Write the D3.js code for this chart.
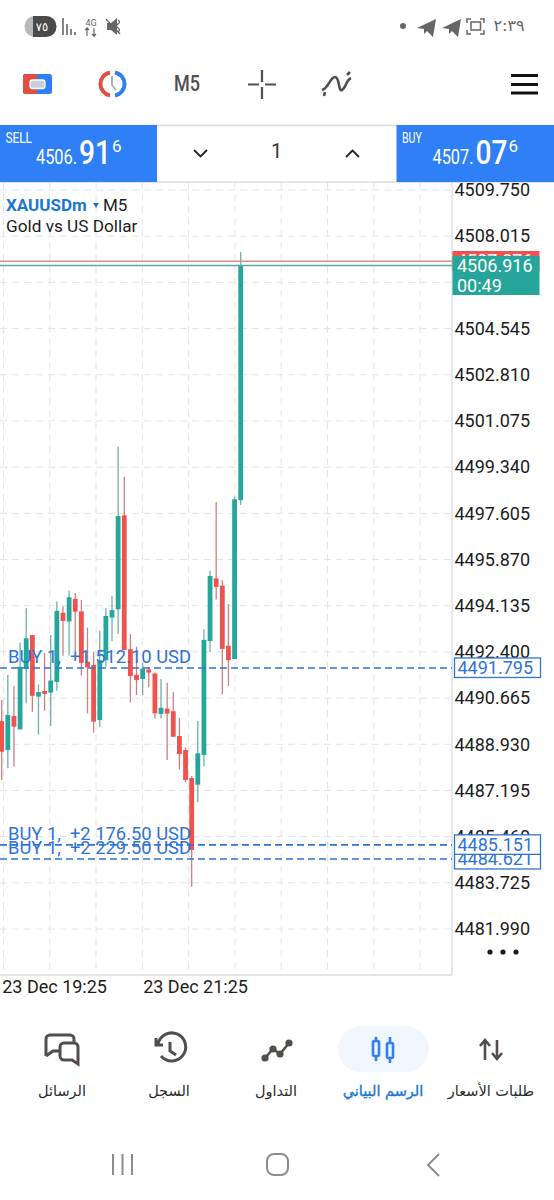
<!DOCTYPE html>
<html>
<head>
<meta charset="utf-8">
<script src="https://cdn.jsdelivr.net/npm/d3@7"></script>
<style>
  body { margin: 0; background: #fff; }
  svg { display: block; }
  text { font-family: Roboto, sans-serif; }
  .ar { font-family: "DejaVu Sans", sans-serif; }
</style>
</head>
<body>
<div id="chart"></div>
<script>
// candles (prices)
var opens = [4489.80,4488.71,4489.99,4489.49,4491.78,4493.03,4490.72,4490.93,4490.87,4491.27,
  4493.87,4493.54,4494.39,4493.92,4492.03,4491.91,4489.84,4492.09,4493.69,4494.00,
  4497.53,4492.50,4491.54,4491.38,4491.74,4491.59,4490.07,4490.27,4490.17,4489.24,
  4488.71,4487.66,4487.41,4488.53,4492.81,4495.16,4494.89,4492.63,4492.13,4498.10];
var highs = [4490.59,4491.53,4491.12,4492.75,4494.04,4493.03,4491.18,4492.35,4493.03,4494.29,
  4494.10,4494.70,4494.60,4494.35,4493.31,4492.41,4493.20,4494.04,4494.50,4500.11,
  4498.98,4493.07,4492.60,4491.99,4491.84,4491.62,4491.38,4491.24,4490.88,4489.93,
  4488.81,4487.74,4489.80,4493.25,4495.45,4498.03,4495.10,4494.20,4498.23,4507.42];
var lows = [4487.59,4488.03,4488.09,4489.49,4490.47,4490.15,4489.30,4490.19,4489.62,4490.94,
  4492.25,4492.25,4492.41,4491.51,4490.09,4489.37,4489.59,4491.84,4492.81,4493.07,
  4492.47,4490.50,4490.78,4490.78,4491.07,4489.90,4489.90,4488.34,4489.21,4487.99,
  4487.50,4483.58,4486.75,4488.09,4492.40,4494.37,4490.81,4491.12,4492.13,4497.92];
var closes = [4488.65,4490.03,4489.59,4491.84,4492.91,4490.75,4490.89,4490.82,4491.32,4493.94,
  4493.56,4494.45,4493.91,4491.99,4491.82,4489.78,4492.09,4493.75,4493.97,4497.50,
  4492.47,4491.49,4491.34,4491.77,4491.62,4490.09,4490.30,4490.08,4489.21,4488.56,
  4487.59,4484.96,4488.59,4492.85,4495.25,4494.84,4492.51,4492.09,4498.13,4506.916];

// 4506.280 has a grid line but its label sits under the price box
var gridPrices = [4509.750,4508.015,4506.280,4504.545,4502.810,4501.075,4499.340,4497.605,
  4495.870,4494.135,4492.400,4490.665,4488.930,4487.195,4485.460,4483.725,4481.990];
var priceTicks = [4509.750,4508.015,4504.545,4502.810,4501.075,4499.340,4497.605,
  4495.870,4494.135,4492.400,4490.665,4488.930,4487.195,4485.460,4483.725,4481.990];
var timeTickIndex = [0, 23];
var timeTickLabels = ["23 Dec 19:25", "23 Dec 21:25"];
var gridSteps = [0,1,2,3,4,5,6,7,8,9];

var bid = 4506.916;
var ask = 4507.076;
var orderPrices = [4491.795, 4485.151, 4484.621];
var orderLabels = ["BUY 1,  +1 512.10 USD", "BUY 1,  +2 176.50 USD", "BUY 1,  +2 229.50 USD"];

var navLabels = ["الرسائل", "السجل", "التداول", "الرسم البياني", "طلبات الأسعار"];

var svgWidth = 554;
var svgHeight = 1200;
var plotRight = 452;
var plotBottom = 975;

var UP = "#26a69a", DOWN = "#ef5350";
var UP_WICK = "#6fb0a8", DOWN_WICK = "#cf7f7c";
var BLUE = "#2f80f6", ORDER = "#2f73d6", LINK = "#1976d2";
var ICON = "#544d4b", GRID = "#e4e4e4";

var svg = d3.select("#chart").append("svg")
  .attr("width", svgWidth)
  .attr("height", svgHeight);

// scales
var x = d3.scaleLinear().domain([0, 39]).range([1.7, 240.7]);
var y = d3.scaleLinear().domain([4481.990, 4509.750]).range([929, 190]);
var gridX = d3.scaleLinear().domain([0, 9]).range([3.5, 420]);

var plot = svg.append("g");

// grid
plot.selectAll(".gh").data(gridPrices).enter().append("line")
  .attr("x1", 0).attr("x2", plotRight)
  .attr("y1", d => y(d)).attr("y2", d => y(d))
  .attr("stroke", GRID).attr("stroke-dasharray", "7,5");

plot.selectAll(".gv").data(gridSteps).enter().append("line")
  .attr("x1", d => gridX(d)).attr("x2", d => gridX(d))
  .attr("y1", 182).attr("y2", plotBottom)
  .attr("stroke", GRID).attr("stroke-dasharray", "7,5");

plot.append("line").attr("x1", plotRight).attr("x2", plotRight).attr("y1", 182).attr("y2", plotBottom)
  .attr("stroke", "#dedede").attr("stroke-width", 1.5);
plot.append("line").attr("x1", 0).attr("x2", plotRight).attr("y1", plotBottom).attr("y2", plotBottom)
  .attr("stroke", "#dedede").attr("stroke-width", 1.5);

// axes
var yAxis = d3.axisRight(y).tickValues(priceTicks).tickSize(0).tickPadding(0)
  .tickFormat(d3.format(".3f"));
var yg = plot.append("g").attr("transform", `translate(454.5,0)`).call(yAxis);
yg.select(".domain").remove();
yg.selectAll("text").style("font-size", "18px").attr("fill", "#1c1c1c").attr("font-family", "Roboto");

var xAxis = d3.axisBottom(x).tickValues(timeTickIndex).tickSize(0).tickPadding(0)
  .tickFormat((d, i) => timeTickLabels[i]);
var xg = plot.append("g").attr("transform", `translate(0,${plotBottom + 5})`).call(xAxis);
xg.select(".domain").remove();
xg.selectAll("text").style("font-size", "18px").attr("fill", "#1c1c1c")
  .attr("text-anchor", "start").attr("font-family", "Roboto");

// candles
var idx = d3.range(opens.length);
plot.selectAll(".wick").data(idx).enter().append("line")
  .attr("x1", d => x(d)).attr("x2", d => x(d))
  .attr("y1", d => y(highs[d])).attr("y2", d => y(lows[d]))
  .attr("stroke", d => closes[d] >= opens[d] ? UP_WICK : DOWN_WICK)
  .attr("stroke-width", 1.3);

plot.selectAll(".body").data(idx).enter().append("rect")
  .attr("x", d => x(d) - 2.4)
  .attr("width", 4.8)
  .attr("y", d => y(Math.max(opens[d], closes[d])))
  .attr("height", d => Math.abs(y(opens[d]) - y(closes[d])))
  .attr("fill", d => closes[d] >= opens[d] ? UP : DOWN);

// bid / ask lines
plot.append("line").attr("x1", 0).attr("x2", plotRight).attr("y1", y(ask)).attr("y2", y(ask))
  .attr("stroke", "#d98d89").attr("stroke-width", 1.5);
plot.append("line").attr("x1", 0).attr("x2", plotRight).attr("y1", y(bid)).attr("y2", y(bid))
  .attr("stroke", "#5fa9a0").attr("stroke-width", 1.5);

// order lines and labels
plot.selectAll(".order").data(orderPrices).enter().append("line")
  .attr("x1", 0).attr("x2", plotRight)
  .attr("y1", d => y(d)).attr("y2", d => y(d))
  .attr("stroke", ORDER).attr("stroke-width", 1.6).attr("stroke-dasharray", "7,4");

plot.selectAll(".orderText").data(orderPrices).enter().append("text")
  .attr("x", 8)
  .attr("y", d => y(d) - 4.5)
  .attr("fill", ORDER).attr("font-size", 17.5)
  .attr("textLength", 183).attr("lengthAdjust", "spacingAndGlyphs")
  .style("white-space", "pre")
  .text((d, i) => orderLabels[i]);

// price boxes on the right, lower one first so the upper sits on it
[2, 0, 1].forEach(function (i) {
  var p = orderPrices[i];
  var cy = y(p);
  var top = i == 2 ? cy - 5 : cy - 10;
  var h = i == 2 ? 15 : 19.5;
  var g = plot.append("g");
  g.append("rect").attr("x", 454.5).attr("y", top).attr("width", 86).attr("height", h)
    .attr("fill", "#fff").attr("stroke", ORDER).attr("stroke-width", 1.3);
  g.append("text").attr("x", 457.5).attr("y", cy + 6.5)
    .attr("fill", ORDER).attr("font-size", 18).text(d3.format(".3f")(p));
});

// ask box is mostly covered by the bid box, only its top edge shows
plot.append("rect").attr("x", 452.5).attr("y", 251).attr("width", 87).attr("height", 20).attr("fill", DOWN);
plot.append("text").attr("x", 457).attr("y", 267).attr("fill", "#fff").attr("font-size", 18).text(d3.format(".3f")(ask));
plot.append("rect").attr("x", 452.5).attr("y", 256).attr("width", 87).attr("height", 39).attr("fill", UP);
plot.append("text").attr("x", 457).attr("y", 271.5).attr("fill", "#fff").attr("font-size", 18).text(d3.format(".3f")(bid));
plot.append("text").attr("x", 457).attr("y", 291.5).attr("fill", "#fff").attr("font-size", 18).text("00:49");

// three dots
[490, 503, 516].forEach(function (cx) {
  plot.append("circle").attr("cx", cx).attr("cy", 952).attr("r", 2.6).attr("fill", "#1c1c1c");
});

// symbol title
plot.append("text").attr("x", 6).attr("y", 211).attr("font-size", 17).attr("fill", LINK).attr("font-weight", 700).text("XAUUSDm");
plot.append("path").attr("d", "M93 203h6l-3 5z").attr("fill", LINK);
plot.append("text").attr("x", 103).attr("y", 211).attr("font-size", 17).attr("fill", "#1c1c1c").text("M5");
plot.append("text").attr("x", 6).attr("y", 232).attr("font-size", 17.2).attr("fill", "#1c1c1c").text("Gold vs US Dollar");

// header with sell / buy, drawn over the chart top
var head = svg.append("g");
head.append("rect").attr("x", 0).attr("y", 0).attr("width", svgWidth).attr("height", 182).attr("fill", "#fff");
head.append("line").attr("x1", 0).attr("x2", svgWidth).attr("y1", 125.5).attr("y2", 125.5).attr("stroke", "#dcdcdc").attr("stroke-width", 1.5);
head.append("line").attr("x1", 0).attr("x2", svgWidth).attr("y1", 182).attr("y2", 182).attr("stroke", "#dcdcdc").attr("stroke-width", 1.5);
head.append("rect").attr("x", 0).attr("y", 125).attr("width", 157).attr("height", 57).attr("fill", BLUE);
head.append("rect").attr("x", 396.5).attr("y", 125).attr("width", 157.5).attr("height", 57).attr("fill", BLUE);

function quote(x0, name, big, small, last) {
  head.append("text").attr("x", x0 + 5.5).attr("y", 143).attr("fill", "#fff").attr("font-size", 15)
    .attr("textLength", name.length * 6.6).attr("lengthAdjust", "spacingAndGlyphs").text(name);
  head.append("text").attr("x", x0 + 36).attr("y", 163.5).attr("fill", "#fff").attr("font-size", 20)
    .attr("textLength", 41).attr("lengthAdjust", "spacingAndGlyphs").text(big);
  head.append("text").attr("x", x0 + 79).attr("y", 163.5).attr("fill", "#fff").attr("font-size", 34)
    .attr("font-weight", 500).attr("textLength", 32).attr("lengthAdjust", "spacingAndGlyphs").text(small);
  head.append("text").attr("x", x0 + 112).attr("y", 152).attr("fill", "#fff").attr("font-size", 17).text(last);
}
quote(0, "SELL", "4506.", "91", "6");
quote(396.5, "BUY", "4507.", "07", "6");

head.append("path").attr("d", "M194 150l6.5 6.5 6.5-6.5").attr("fill", "none").attr("stroke", "#222").attr("stroke-width", 1.8);
head.append("path").attr("d", "M346 157l6.5-6.5 6.5 6.5").attr("fill", "none").attr("stroke", "#222").attr("stroke-width", 1.8);
head.append("text").attr("x", 276.5).attr("y", 158).attr("text-anchor", "middle").attr("font-size", 20).attr("fill", "#333").text("1");

// toolbar icons
var bar = svg.append("g");
bar.append("rect").attr("x", 23).attr("y", 74).attr("width", 29).attr("height", 20).attr("rx", 2.5).attr("fill", BLUE);
bar.append("path").attr("d", "M25.5 74H37V94H25.5a2.5 2.5 0 0 1-2.5-2.5v-15A2.5 2.5 0 0 1 25.5 74z").attr("fill", "#df4f43");
bar.append("rect").attr("x", 30).attr("y", 80).attr("width", 15).attr("height", 8.5).attr("rx", 2.5).attr("fill", "#c9d0dc").attr("stroke", "#fff").attr("stroke-width", 1.3);
bar.append("path").attr("d", "M110 72.5a11.7 11.7 0 0 0 0 23").attr("fill", "none").attr("stroke", "#df4f43").attr("stroke-width", 4);
bar.append("path").attr("d", "M115 72.5a11.7 11.7 0 0 1 0 23").attr("fill", "none").attr("stroke", BLUE).attr("stroke-width", 4);
bar.append("path").attr("d", "M112 76v9l4 5").attr("fill", "none").attr("stroke", "#aab2bd").attr("stroke-width", 2);
bar.append("text").attr("x", 174).attr("y", 91).attr("font-size", 22).attr("font-weight", 500).attr("fill", ICON)
  .attr("textLength", 26).attr("lengthAdjust", "spacingAndGlyphs").text("M5");
bar.append("path").attr("d", "M262 70v12M262 87v12M248 84.5h11M265 84.5h11").attr("stroke", ICON).attr("stroke-width", 2.2);
bar.append("path").attr("d", "M322 90C329 88 330 77 335 77S338 92 342 90 346 80 351 78M325 92l-1 4M347 75l3-3")
  .attr("fill", "none").attr("stroke", ICON).attr("stroke-width", 2.6);
bar.append("path").attr("d", "M511 79.5h27M511 88.5h27M511 97h27").attr("transform", "translate(0,-4)").attr("stroke", "#111").attr("stroke-width", 3);

// status bar
var statusBar = svg.append("g").attr("fill", "#666");
statusBar.append("rect").attr("x", 24.5).attr("y", 16).attr("width", 32).attr("height", 21).attr("rx", 10.5).attr("fill", "#b8b8b8");
statusBar.append("path").attr("d", "M33 16h13a10.5 10.5 0 0 1 0 21H33z").attr("fill", "#4a4a4a");
statusBar.append("text").attr("class", "ar").attr("x", 42).attr("y", 31).attr("text-anchor", "middle").attr("font-size", 11.5).attr("fill", "#fff").text("٧٥");
statusBar.append("path").attr("d", "M63 18v17M67 24v11M71 29v6M75 32v3").attr("stroke", "#666").attr("stroke-width", 1.6);
statusBar.append("text").attr("x", 91).attr("y", 26).attr("text-anchor", "middle").attr("font-size", 9).text("4G");
statusBar.append("path").attr("d", "M87 36v-8l-2 2M87 28l2 2M94 28v8l-2-2M94 36l2-2").attr("stroke", "#666").attr("fill", "none").attr("stroke-width", 1.2);
statusBar.append("path").attr("d", "M107 23h4l6-5v17l-6-5h-4z");
statusBar.append("path").attr("d", "M106 19l14 15M118 20q3 2 0 4t0 4 0 4").attr("stroke", "#666").attr("fill", "none").attr("stroke-width", 1.3);
statusBar.append("circle").attr("cx", 403).attr("cy", 26).attr("r", 3);
statusBar.append("path").attr("d", "M417 28l19-9-3 18-6-6-3 3v-5z");
statusBar.append("path").attr("d", "M442 28l19-9-3 18-6-6-3 3v-5z");
statusBar.append("path").attr("d", "M467 23v-4h4M484 23v-4h-4M467 30v4h4M484 30v4h-4").attr("stroke", "#666").attr("fill", "none").attr("stroke-width", 1.5);
statusBar.append("rect").attr("x", 471).attr("y", 22).attr("width", 9.5).attr("height", 8).attr("fill", "none").attr("stroke", "#666").attr("stroke-width", 1.5);
statusBar.append("text").attr("class", "ar").attr("x", 509).attr("y", 31).attr("text-anchor", "middle").attr("font-size", 16).text("٢:٣٩");

// bottom nav
var nav = svg.append("g");
nav.append("rect").attr("x", 338).attr("y", 1026).attr("width", 91).attr("height", 46).attr("rx", 23).attr("fill", "#eff6fd");
var navX = d3.scaleOrdinal().domain(navLabels).range([62, 169, 276, 383, 491]);
nav.selectAll(".navText").data(navLabels).enter().append("text")
  .attr("class", "ar")
  .attr("x", d => navX(d))
  .attr("y", 1096)
  .attr("text-anchor", "middle")
  .attr("font-size", 14.5)
  .attr("fill", (d, i) => i == 3 ? LINK : "#2b2b2b")
  .attr("stroke", (d, i) => i == 3 ? LINK : "none")
  .attr("stroke-width", 0.35)
  .text(d => d);

var navIcons = nav.append("g").attr("fill", "none").attr("stroke", ICON).attr("stroke-width", 3);
navIcons.append("path").attr("d", "M46 1056v-17a4 4 0 0 1 4-4h20a4 4 0 0 1 4 4v3M46 1056l7-5h6");
navIcons.append("path").attr("d", "M60 1047a4 4 0 0 1 4-4h10a4 4 0 0 1 4 4v17l-6-4H64a4 4 0 0 1-4-4z");
navIcons.append("path").attr("d", "M158 1044a14 14 0 1 1 3 12M156 1038v7h7M170 1042v9l6 4");
navIcons.append("path").attr("d", "M265 1058l8-9 7 5 9-11").attr("stroke-width", 2.6);
[[265, 1058], [273, 1049], [280, 1054], [289, 1043]].forEach(function (p) {
  nav.append("circle").attr("cx", p[0]).attr("cy", p[1]).attr("r", 3.6).attr("fill", ICON);
});
nav.append("g").attr("fill", "#eff6fd").attr("stroke", "#2f80f6").attr("stroke-width", 2.6).call(function (g) {
  g.append("path").attr("d", "M376 1037v24M390 1037v26");
  g.append("rect").attr("x", 373).attr("y", 1041).attr("width", 6).attr("height", 15).attr("rx", 1.5);
  g.append("rect").attr("x", 387).attr("y", 1043).attr("width", 6).attr("height", 15).attr("rx", 1.5);
});
nav.append("path").attr("d", "M485 1060v-19M480 1046l5-6 5 6M497 1040v19M492 1053l5 6 5-6")
  .attr("fill", "none").attr("stroke", ICON).attr("stroke-width", 2.6);

// android buttons
var sys = svg.append("g").attr("fill", "none").attr("stroke", "#8c8c8c").attr("stroke-width", 2);
sys.append("path").attr("d", "M113 1154v21M122.5 1154v21M132 1154v21");
sys.append("rect").attr("x", 267).attr("y", 1154).attr("width", 21).attr("height", 21).attr("rx", 7);
sys.append("path").attr("d", "M439 1154l-11 11 11 11");
</script>
</body>
</html>
